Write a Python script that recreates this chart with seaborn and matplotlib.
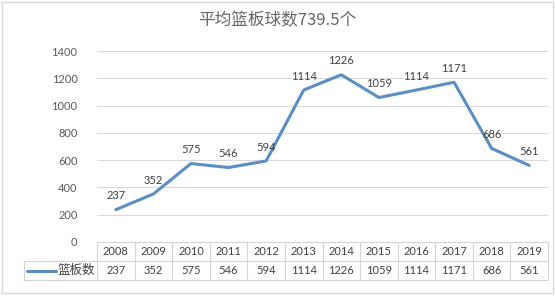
import matplotlib
matplotlib.use("Agg")
import matplotlib.pyplot as plt
import seaborn as sns
import pandas as pd
from matplotlib.lines import Line2D
from matplotlib.patches import Rectangle

years = ["2008", "2009", "2010", "2011", "2012", "2013", "2014", "2015", "2016", "2017", "2018", "2019"]
values = [237, 352, 575, 546, 594, 1114, 1226, 1059, 1114, 1171, 686, 561]
series_name = "篮板数"
title = "平均篮板球数739.5个"
yticks = [0, 200, 400, 600, 800, 1000, 1200, 1400]

sns.set_style("white")
plt.rcParams["font.family"] = ["Lato", "Noto Sans CJK SC", "DejaVu Sans"]
cjk = ["Noto Sans CJK SC", "DejaVu Sans"]

W, H = 555, 296
fig = plt.figure(figsize=(W / 100, H / 100), dpi=100)
fig.patch.set_facecolor("white")

def fx(px):
    return px / W
def fy(py):
    return 1 - py / H

left, right, top, bottom = 97, 548, 51, 242
ax = fig.add_axes([fx(left), fy(bottom), fx(right) - fx(left), fy(top) - fy(bottom)])

df = pd.DataFrame({"x": range(len(years)), "y": values})
color = "#5B8EC2"
sns.lineplot(data=df, x="x", y="y", ax=ax, color=color, linewidth=2.2)
ax.set_xlim(-0.5, len(years) - 0.5)
ax.set_ylim(0, 1400)
ax.set_yticks(yticks)
ax.set_yticklabels([str(t) for t in yticks], color="#595959", fontsize=8)
ax.set_xticks([])
ax.set_xlabel("")
ax.set_ylabel("")
ax.tick_params(axis="y", length=0, pad=14)
for s in ax.spines.values():
    s.set_visible(False)
for t in yticks[1:]:
    ax.axhline(t, color="#d9d9d9", linewidth=0.8, zorder=0)

for i, v in enumerate(values):
    ax.annotate(str(v), (i, v), xytext=(0, 6), textcoords="offset points",
                ha="center", va="bottom", fontsize=8, color="#404040")

# data table
ncol = len(years)
cw = (right - left) / ncol
r0, r1, r2 = 242, 261, 280
leg_left = 24
gc = "#d4d4d4"
lines = []
lines.append(((left, r0), (right, r0)))
lines.append(((leg_left, r1), (right, r1)))
lines.append(((leg_left, r2), (right, r2)))
lines.append(((leg_left, r1), (leg_left, r2)))
for i in range(ncol + 1):
    xx = left + i * cw
    lines.append(((xx, r0), (xx, r2)))
for (x0, y0), (x1, y1) in lines:
    fig.add_artist(Line2D([fx(x0), fx(x1)], [fy(y0), fy(y1)], color=gc, linewidth=0.8))

for i, (yr, v) in enumerate(zip(years, values)):
    cx = left + (i + 0.5) * cw
    fig.text(fx(cx), fy((r0 + r1) / 2), yr, ha="center", va="center", fontsize=8, color="#404040")
    fig.text(fx(cx), fy((r1 + r2) / 2), str(v), ha="center", va="center", fontsize=8, color="#404040")

# legend key in table
fig.add_artist(Line2D([fx(27), fx(56)], [fy(270.5), fy(270.5)], color=color, linewidth=2.2))
fig.text(fx(76), fy(270.5), series_name, ha="center", va="center", fontsize=9,
         color="#404040", family=cjk)

# title
fig.text(fx(277), fy(21), title, ha="center", va="center", fontsize=12,
         color="#666666", family=cjk, fontweight="light")

# outer border
fig.add_artist(Rectangle((fx(2), fy(293)), fx(551), fy(2) - fy(293), fill=False,
                         edgecolor="#d9d9d9", linewidth=1, transform=fig.transFigure))

fig.savefig("out.png", dpi=100)
